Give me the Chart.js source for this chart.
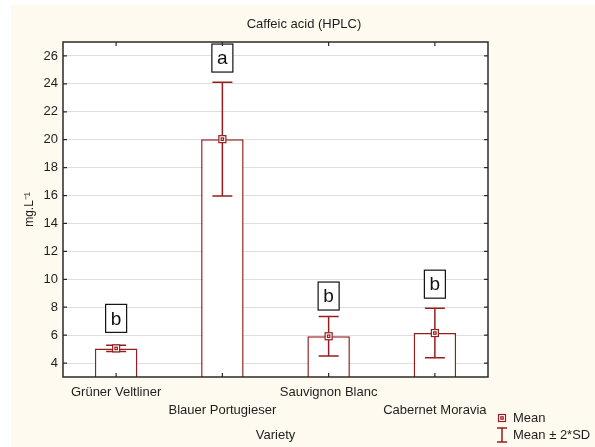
<!DOCTYPE html>
<html>
<head>
<meta charset="utf-8">
<script src="https://cdn.jsdelivr.net/npm/chart.js@4"></script>
<style>
  html, body { margin: 0; padding: 0; background: #fff; }
  #wrap { width: 595px; height: 447px; }
</style>
</head>
<body>
<div id="wrap"><canvas id="c" width="595" height="447"></canvas></div>
<script>
// Caffeic acid (HPLC) by variety, mean with ± 2*SD
const categories = ["Grüner Veltliner", "Blauer Portugieser", "Sauvignon Blanc", "Cabernet Moravia"];
const means = [5.05, 20.04, 5.92, 6.15];
const twoSD = [0.22, 4.08, 1.41, 1.77];
const groupLetters = ["b", "a", "b", "b"];
const letterY = [7.2, 25.85, 8.8, 9.65];
const yTickValues = [4, 6, 8, 10, 12, 14, 16, 18, 20, 22, 24, 26];

const RED = "#961e1e";
const FONT = "'Liberation Sans', Arial, sans-serif";
const TEXT = "#1e1e1e";

// labels alternate between first and second line
const staggered = categories.map((c, i) => (i % 2 === 0 ? [c, ""] : ["", c]));

function drawMeanMarker(ctx, x, y) {
  ctx.strokeStyle = RED;
  ctx.lineWidth = 1.2;
  ctx.fillStyle = "#fff";
  ctx.fillRect(x - 3.5, y - 3.5, 7, 7);
  ctx.strokeRect(x - 3.5, y - 3.5, 7, 7);
  ctx.strokeRect(x - 1.2, y - 1.2, 2.4, 2.4);
}

const extras = {
  id: "extras",
  beforeDraw(chart) {
    const ctx = chart.ctx;
    ctx.save();
    ctx.fillStyle = "#fff";
    ctx.fillRect(0, 0, chart.width, chart.height);
    ctx.fillStyle = "#fffaef";
    ctx.fillRect(11, 5, chart.width - 11, chart.height - 5);
    const a = chart.chartArea;
    ctx.fillStyle = "#fff";
    ctx.fillRect(a.left, a.top, a.right - a.left, a.bottom - a.top);
    ctx.restore();
  },
  afterDatasetsDraw(chart) {
    const ctx = chart.ctx;
    const xs = chart.scales.x, ys = chart.scales.y;
    const a = chart.chartArea;
    ctx.save();

    // error bars + mean markers
    means.forEach((m, i) => {
      const x = xs.getPixelForValue(i);
      const yTop = ys.getPixelForValue(m + twoSD[i]);
      const yBot = ys.getPixelForValue(m - twoSD[i]);
      ctx.strokeStyle = RED;
      ctx.lineWidth = 1.5;
      ctx.beginPath();
      ctx.moveTo(x, yTop); ctx.lineTo(x, yBot);
      ctx.moveTo(x - 10, yTop); ctx.lineTo(x + 10, yTop);
      ctx.moveTo(x - 10, yBot); ctx.lineTo(x + 10, yBot);
      ctx.stroke();
      drawMeanMarker(ctx, x, ys.getPixelForValue(m));
    });

    // group letters in boxes
    groupLetters.forEach((g, i) => {
      const x = xs.getPixelForValue(i);
      const y = ys.getPixelForValue(letterY[i]);
      ctx.fillStyle = "#fff";
      ctx.fillRect(x - 10.5, y - 14, 21, 28);
      ctx.strokeStyle = "#111";
      ctx.lineWidth = 1.2;
      ctx.strokeRect(x - 10.5, y - 14, 21, 28);
      ctx.fillStyle = "#111";
      ctx.font = "19px " + FONT;
      ctx.textAlign = "center";
      ctx.textBaseline = "middle";
      ctx.fillText(g, x, y + 1);
    });

    // frame and inward ticks
    ctx.strokeStyle = "#2a2a2a";
    ctx.lineWidth = 1.5;
    ctx.strokeRect(a.left, a.top, a.right - a.left, a.bottom - a.top);
    ctx.lineWidth = 1.2;
    ctx.beginPath();
    yTickValues.forEach(v => {
      const y = ys.getPixelForValue(v);
      ctx.moveTo(a.left, y); ctx.lineTo(a.left + 4, y);
      ctx.moveTo(a.right, y); ctx.lineTo(a.right - 4, y);
    });
    categories.forEach((c, i) => {
      const x = xs.getPixelForValue(i);
      ctx.moveTo(x, a.bottom); ctx.lineTo(x, a.bottom - 4);
      ctx.moveTo(x, a.top); ctx.lineTo(x, a.top + 4);
    });
    ctx.stroke();

    // title
    ctx.fillStyle = TEXT;
    ctx.font = "13px " + FONT;
    ctx.textAlign = "center";
    ctx.textBaseline = "middle";
    ctx.fillText("Caffeic acid (HPLC)", 304, 24);

    // legend
    drawMeanMarker(ctx, 502, 418);
    ctx.strokeStyle = RED;
    ctx.lineWidth = 1.5;
    ctx.beginPath();
    ctx.moveTo(502, 428); ctx.lineTo(502, 442);
    ctx.moveTo(497, 428); ctx.lineTo(507, 428);
    ctx.moveTo(497, 442); ctx.lineTo(507, 442);
    ctx.stroke();
    ctx.fillStyle = TEXT;
    ctx.textAlign = "left";
    ctx.fillText("Mean", 513, 418);
    ctx.fillText("Mean ± 2*SD", 513, 435);

    ctx.restore();
  }
};

new Chart(document.getElementById("c"), {
  type: "bar",
  data: {
    labels: staggered,
    datasets: [{
      data: means,
      backgroundColor: "#fff",
      borderColor: RED,
      borderWidth: 1.5,
      barPercentage: 0.4,
      categoryPercentage: 1.0,
    }],
  },
  options: {
    responsive: false,
    animation: false,
    events: [],
    layout: { padding: { left: 0, right: 107, top: 42, bottom: 0 } },
    plugins: {
      legend: { display: false },
      title: { display: false },
      tooltip: { enabled: false },
    },
    scales: {
      x: {
        grid: { display: false, drawTicks: false },
        border: { display: false },
        ticks: {
          autoSkip: false,
          maxRotation: 0,
          minRotation: 0,
          padding: 6,
          color: TEXT,
          font: { family: FONT, size: 13, lineHeight: 18 / 13 },
        },
        title: {
          display: true,
          text: "Variety",
          color: TEXT,
          font: { family: FONT, size: 13 },
          padding: { top: 0, bottom: 4 },
        },
        afterFit: s => { s.height = 70; },
      },
      y: {
        min: 3,
        max: 27,
        afterBuildTicks: s => { s.ticks = yTickValues.map(v => ({ value: v })); },
        grid: { color: "#dedede", lineWidth: 1, drawTicks: false },
        border: { display: false },
        ticks: {
          padding: 5,
          color: TEXT,
          font: { family: FONT, size: 13 },
        },
        title: {
          display: true,
          text: "mg.L⁻¹",
          color: TEXT,
          font: { family: FONT, size: 12 },
          padding: { top: 22, bottom: 0 },
        },
        afterFit: s => { s.width = 63; },
      },
    },
  },
  plugins: [extras],
});
</script>
</body>
</html>
